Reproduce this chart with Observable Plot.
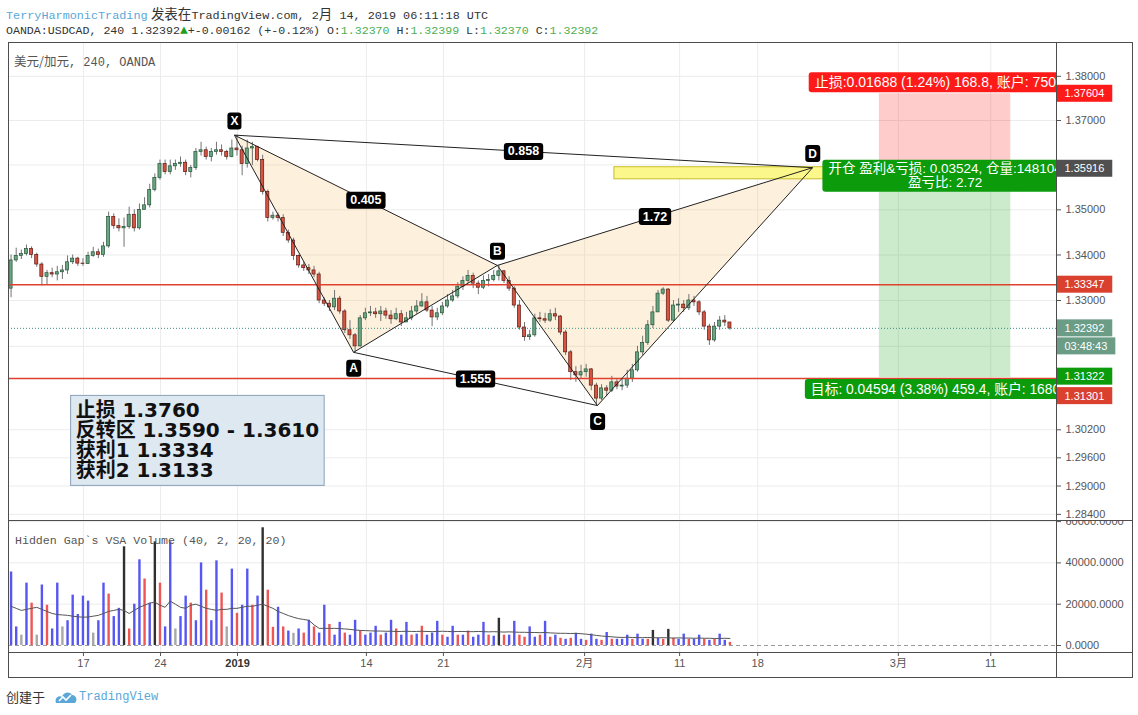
<!DOCTYPE html>
<html><head><meta charset="utf-8">
<script src="https://cdn.jsdelivr.net/npm/d3@7"></script>
<script src="https://cdn.jsdelivr.net/npm/@observablehq/plot@0.6"></script>
<style>
body{margin:0;background:#fff;width:1138px;height:715px;position:relative;overflow:hidden;font-family:"Liberation Sans","Noto Sans CJK SC",sans-serif;}
.abs{position:absolute;white-space:nowrap;}
.mono{font-family:"Liberation Mono","DejaVu Sans Mono",monospace;}
.cjk{font-family:"Noto Sans CJK SC",sans-serif;}
.gv{color:#4caf50;}
.ln{position:absolute;background:#4d4d4d;pointer-events:none;}
</style></head><body>
<div class="abs" style="left:6px;top:4px;font-size:11.8px;line-height:18px;color:#333"><span class="mono" style="color:#5aa7d8">TerryHarmonicTrading</span> <span class="cjk" style="font-size:13.5px">发表在</span><span class="mono">TradingView.com, 2</span><span class="cjk" style="font-size:13.5px">月</span><span class="mono"> 14, 2019 06:11:18 UTC</span></div>
<div class="abs mono" style="left:6px;top:22px;font-size:11.6px;line-height:18px;color:#333">OANDA:USDCAD, 240 1.32392<span style="color:#1f9e1f;font-size:13px">▲</span>+-0.00162 (+-0.12%) O:<span class="gv">1.32370</span> H:<span class="gv">1.32399</span> L:<span class="gv">1.32370</span> C:<span class="gv">1.32392</span></div>
<div id="main" class="abs" style="left:8px;top:42px"></div>
<div id="vol" class="abs" style="left:8px;top:520px"></div>
<div class="abs" style="left:14px;top:53px;font-size:12px;line-height:16px;color:#555"><span class="cjk" style="font-size:12.5px">美元/加元</span><span class="mono">, 240, OANDA</span></div>
<div class="abs mono" style="left:15px;top:533px;font-size:11.6px;line-height:16px;color:#555">Hidden Gap`s VSA Volume (40, 2, 20, 20)</div>
<div class="abs" style="left:8px;top:42px;width:1125px;height:636px;border:1px solid #4d4d4d;box-sizing:border-box;pointer-events:none"></div>
<div class="ln" style="left:8px;top:520px;width:1125px;height:1px"></div>
<div class="ln" style="left:8px;top:652px;width:1125px;height:1px"></div>
<div class="ln" style="left:1056px;top:42px;width:1px;height:636px"></div>
<div class="abs" style="left:6px;top:688px;font-size:13px;line-height:18px;color:#333"><span class="cjk">创建于</span></div>
<svg class="abs" style="left:55px;top:690px" width="22" height="14" viewBox="0 0 22 14"><path d="M1 13 C-1 8 4 5 7 7 C8 2 15 1 17 5 C21 5 23 10 20 13 Z" fill="#5aa7d8"/><path d="M4 11 L8 7 L11 10 L16 5" stroke="#fff" stroke-width="1.6" fill="none"/></svg>
<div class="abs mono" style="left:79px;top:689px;font-size:12px;line-height:16px;color:#5aa7d8">TradingView</div>
<script>
// ---------- data ----------
const candleOpen = [1.3326,1.3388,1.3398,1.3402,1.3413,1.3400,1.3379,1.3352,1.3360,1.3357,
 1.3362,1.3366,1.3384,1.3392,1.3381,1.3380,1.3398,1.3406,1.3400,1.3419,
 1.3484,1.3464,1.3459,1.3462,1.3489,1.3459,1.3500,1.3510,1.3544,1.3571,
 1.3602,1.3584,1.3597,1.3602,1.3605,1.3584,1.3593,1.3629,1.3633,1.3618,
 1.3629,1.3633,1.3629,1.3618,1.3637,1.3633,1.3602,1.3637,1.3640,1.3611,
 1.3540,1.3482,1.3487,1.3482,1.3449,1.3432,1.3398,1.3377,1.3371,1.3366,
 1.3357,1.3300,1.3293,1.3285,1.3304,1.3276,1.3235,1.3224,1.3200,1.3261,
 1.3272,1.3274,1.3270,1.3276,1.3267,1.3259,1.3270,1.3252,1.3261,1.3276,
 1.3287,1.3296,1.3278,1.3263,1.3272,1.3287,1.3300,1.3309,1.3330,1.3343,
 1.3354,1.3337,1.3328,1.3343,1.3345,1.3354,1.3364,1.3343,1.3326,1.3289,
 1.3241,1.3220,1.3224,1.3261,1.3259,1.3256,1.3270,1.3265,1.3230,1.3187,
 1.3144,1.3137,1.3144,1.3150,1.3115,1.3087,1.3109,1.3104,1.3122,1.3113,
 1.3115,1.3130,1.3148,1.3187,1.3207,1.3246,1.3274,1.3315,1.3324,1.3256,
 1.3289,1.3291,1.3283,1.3300,1.3296,1.3274,1.3243,1.3213,1.3243,1.3256,
 1.3252];
const candleHigh = [1.3400,1.3415,1.3411,1.3422,1.3418,1.3404,1.3383,1.3366,1.3371,1.3375,
 1.3377,1.3398,1.3400,1.3395,1.3392,1.3406,1.3417,1.3413,1.3428,1.3495,
 1.3491,1.3480,1.3482,1.3506,1.3500,1.3513,1.3527,1.3557,1.3580,1.3611,
 1.3611,1.3611,1.3611,1.3618,1.3611,1.3599,1.3637,1.3651,1.3640,1.3637,
 1.3651,1.3645,1.3633,1.3656,1.3667,1.3642,1.3656,1.3651,1.3642,1.3622,
 1.3544,1.3495,1.3493,1.3489,1.3455,1.3437,1.3400,1.3384,1.3379,1.3375,
 1.3362,1.3306,1.3300,1.3322,1.3309,1.3280,1.3256,1.3228,1.3267,1.3283,
 1.3287,1.3283,1.3287,1.3283,1.3278,1.3283,1.3278,1.3274,1.3287,1.3300,
 1.3315,1.3309,1.3287,1.3283,1.3296,1.3313,1.3322,1.3339,1.3352,1.3366,
 1.3360,1.3343,1.3354,1.3357,1.3366,1.3377,1.3366,1.3352,1.3330,1.3300,
 1.3252,1.3235,1.3270,1.3274,1.3272,1.3280,1.3283,1.3267,1.3235,1.3191,
 1.3156,1.3159,1.3161,1.3152,1.3120,1.3117,1.3115,1.3135,1.3130,1.3130,
 1.3148,1.3161,1.3200,1.3222,1.3256,1.3287,1.3322,1.3328,1.3326,1.3300,
 1.3304,1.3300,1.3313,1.3309,1.3300,1.3278,1.3248,1.3252,1.3265,1.3267,
 1.3252];
const candleLow = [1.3306,1.3384,1.3390,1.3398,1.3392,1.3373,1.3332,1.3335,1.3350,1.3343,
 1.3346,1.3357,1.3379,1.3375,1.3375,1.3379,1.3395,1.3392,1.3395,1.3415,
 1.3457,1.3451,1.3417,1.3457,1.3451,1.3455,1.3500,1.3504,1.3540,1.3566,
 1.3578,1.3578,1.3588,1.3595,1.3576,1.3571,1.3588,1.3620,1.3611,1.3607,
 1.3622,1.3620,1.3611,1.3616,1.3620,1.3576,1.3593,1.3599,1.3607,1.3533,
 1.3473,1.3477,1.3473,1.3441,1.3426,1.3388,1.3371,1.3364,1.3357,1.3350,
 1.3293,1.3287,1.3276,1.3278,1.3270,1.3228,1.3215,1.3187,1.3198,1.3256,
 1.3265,1.3261,1.3254,1.3259,1.3248,1.3256,1.3243,1.3252,1.3256,1.3270,
 1.3285,1.3274,1.3243,1.3256,1.3267,1.3283,1.3296,1.3304,1.3322,1.3337,
 1.3326,1.3313,1.3324,1.3330,1.3341,1.3343,1.3337,1.3320,1.3283,1.3235,
 1.3211,1.3213,1.3220,1.3252,1.3250,1.3252,1.3256,1.3224,1.3180,1.3126,
 1.3122,1.3130,1.3133,1.3104,1.3072,1.3083,1.3091,1.3100,1.3106,1.3104,
 1.3109,1.3122,1.3144,1.3180,1.3202,1.3239,1.3274,1.3311,1.3252,1.3252,
 1.3274,1.3274,1.3278,1.3287,1.3267,1.3235,1.3202,1.3209,1.3235,1.3243,
 1.3235];
const candleClose = [1.3388,1.3398,1.3402,1.3413,1.3400,1.3379,1.3352,1.3360,1.3357,1.3362,
 1.3366,1.3384,1.3392,1.3381,1.3380,1.3398,1.3406,1.3400,1.3419,1.3484,
 1.3464,1.3459,1.3462,1.3489,1.3459,1.3500,1.3510,1.3544,1.3571,1.3602,
 1.3584,1.3597,1.3602,1.3605,1.3584,1.3593,1.3629,1.3633,1.3618,1.3629,
 1.3633,1.3629,1.3618,1.3637,1.3633,1.3602,1.3637,1.3640,1.3611,1.3540,
 1.3482,1.3487,1.3482,1.3449,1.3432,1.3398,1.3377,1.3371,1.3366,1.3357,
 1.3300,1.3293,1.3285,1.3304,1.3276,1.3235,1.3224,1.3200,1.3261,1.3272,
 1.3274,1.3270,1.3276,1.3267,1.3259,1.3270,1.3252,1.3261,1.3276,1.3287,
 1.3296,1.3278,1.3263,1.3272,1.3287,1.3300,1.3309,1.3330,1.3343,1.3354,
 1.3337,1.3328,1.3343,1.3345,1.3354,1.3364,1.3343,1.3326,1.3289,1.3241,
 1.3220,1.3224,1.3261,1.3259,1.3256,1.3270,1.3265,1.3230,1.3187,1.3144,
 1.3137,1.3144,1.3150,1.3115,1.3087,1.3109,1.3104,1.3122,1.3113,1.3115,
 1.3130,1.3148,1.3187,1.3207,1.3246,1.3274,1.3315,1.3324,1.3256,1.3289,
 1.3291,1.3283,1.3300,1.3296,1.3274,1.3243,1.3213,1.3243,1.3256,1.3252,
 1.3239];
const volume = [35600,9000,5000,30200,20500,5000,29300,19500,8000,30200,
 9000,12000,24400,15000,23900,21500,6000,12000,30200,24900,
 14000,18000,47800,8000,20000,41500,32200,20500,50200,30200,
 9000,50200,8000,14000,23900,20500,12000,40000,26800,12000,
 41000,25400,9000,37000,15600,19500,37000,19500,23900,57000,
 26800,8800,18500,9000,7000,5900,8000,6000,12200,9000,
 6000,19500,10200,5000,11200,6000,5000,12200,7000,5000,
 6000,9300,5000,6000,12200,8000,5000,11200,5000,5500,
 9300,5000,6000,11700,5000,4000,9300,5000,5000,7000,
 4000,5000,11200,5000,4500,13200,5000,5000,11700,5000,
 4000,9000,4000,5000,11700,4000,5000,3500,3000,3500,
 5900,3000,2500,5500,3000,2500,6300,3000,3000,3000,
 5000,3000,5500,3000,3000,7300,3500,3000,7800,3500,
 3000,5500,3000,3000,5000,3000,2500,3000,5500,2500,
 1500];
const volumeKind = ["b","b","g","b","r","g","b","r","b","b",
 "g","b","b","b","b","b","g","b","b","r",
 "b","b","k","r","b","b","r","b","k","r",
 "b","b","g","b","b","r","b","b","r","b",
 "b","r","g","b","r","b","b","r","b","k",
 "r","r","b","r","b","g","b","r","b","r",
 "b","b","r","b","b","r","b","b","r","b",
 "b","b","r","b","b","r","b","b","r","b",
 "r","b","b","b","r","b","b","r","b","r",
 "b","b","b","r","b","k","r","b","b","r",
 "r","b","b","r","b","r","b","r","b","r",
 "b","b","r","b","b","r","b","r","b","b",
 "b","r","b","b","r","k","b","r","k","r",
 "b","b","r","b","b","r","b","r","b","b",
 "r"];
const volumeMA = [19000,18000,17000,17500,18000,18500,17500,16500,15500,15000,
 14800,14600,14200,13900,13700,13800,14200,14600,15500,16500,
 17000,17500,17000,15500,17000,18500,19500,20500,21000,19500,
 18500,21500,20000,18500,18000,19500,20000,19000,18000,17500,
 17000,17500,17500,18000,18000,18500,19000,19000,19500,20000,
 19000,18000,16500,15500,14500,13700,13000,12600,12200,10000,
 8300,8300,8300,8300,8200,8000,7800,7500,7300,7200,
 7100,7000,7000,6900,6900,6800,6800,6900,6800,6800,
 6900,6800,6700,6800,6900,6800,6700,6800,6800,6700,
 6700,6800,6700,6600,6700,6600,6500,6600,6500,6400,
 6400,6300,6300,6200,6300,6100,6000,5900,5900,5800,
 5900,5700,5500,5200,4900,4600,4400,4200,4000,3900,
 4000,3900,3800,3800,3900,3800,3700,3800,3700,3600,
 3700,3600,3600,3500,3600,3500,3500,3400,3400,3500,
 3400];
const timeTickPos = [14.1, 29.1, 44.1, 69.2, 84.2, 111.7, 130.2, 145.4, 172.8, 190.8];
const timeTickLabel = ["17", "24", "2019", "14", "21", "2月", "11", "18", "3月", "11"];
const priceGridTicks = [1.38, 1.37, 1.36, 1.35, 1.34, 1.33, 1.32, 1.302, 1.296, 1.29, 1.284];
const priceLabelTicks = [1.38, 1.37, 1.35, 1.34, 1.33, 1.302, 1.296, 1.29, 1.284];
const volumeTicks = [0, 20000, 40000, 60000];
const patternNames = ["X", "A", "B", "C", "D"];
const patternIdx = [43.5, 66.7, 94.7, 114.2, 156.1];
const patternPrice = [1.3667, 1.3187, 1.3377, 1.3072, 1.3594];
const legFrom = ["X", "A", "B", "B", "C", "D", "X", "A"];
const legTo = ["A", "B", "X", "C", "D", "B", "D", "C"];
const ratioText = ["0.858", "0.405", "1.72", "1.555"];
const ratioFrom = ["X", "X", "B", "A"];
const ratioTo = ["D", "B", "D", "C"];
const levelPrices = [1.33347, 1.31301];
const lastPrice = 1.32392;
const countdownText = "03:48:43";
const zoneIdx = [117.5, 159.6];
const zonePrice = [1.3568, 1.3595];
const posIdx = [169.1, 194.7];
const posStop = 1.37604, posEntry = 1.35916, posTarget = 1.31322;
const stopText = "止损:0.01688 (1.24%) 168.8, 账户: 7504.3";
const entryText = "开仓 盈利&亏损: 0.03524, 仓量:148104\n盈亏比: 2.72";
const targetText = "目标: 0.04594 (3.38%) 459.4, 账户: 16806.1";
const noteLines = ["止损 1.3760", "反转区 1.3590 - 1.3610", "获利1 1.3334", "获利2 1.3133"];
const noteIdx = 11.6, notePrice = 1.3090;

// ---------- build ----------
const NS = "http://www.w3.org/2000/svg";
const bx = (fill, stroke, px, py, rx) => () => `bx|${fill}|${stroke}|${px}|${py}|${rx}`;
function applyBoxes(svg) {
  svg.querySelectorAll("text[aria-label^='bx|']").forEach(t => {
    const [, fill, stroke, px, py, rx] = t.getAttribute("aria-label").split("|");
    const b = t.getBBox();
    const r = document.createElementNS(NS, "rect");
    r.setAttribute("x", b.x - +px); r.setAttribute("y", b.y - +py);
    r.setAttribute("width", b.width + 2 * +px); r.setAttribute("height", b.height + 2 * +py);
    r.setAttribute("rx", rx); r.setAttribute("fill", fill); r.setAttribute("stroke", stroke);
    const tr = t.getAttribute("transform"); if (tr) r.setAttribute("transform", tr);
    t.parentNode.insertBefore(r, t);
  });
}

const xDomain = [-0.5, 203.6];
const candles = candleClose.map((c, i) => ({i, open: candleOpen[i], high: candleHigh[i], low: candleLow[i], close: c}));
const upC = candles.filter(d => d.close >= d.open), downC = candles.filter(d => d.close < d.open);
const bw = 0.3;
const pt = {};
patternNames.forEach((n, k) => pt[n] = {name: n, i: patternIdx[k], p: patternPrice[k]});
const legs = legFrom.map((f, k) => ({x1: pt[f].i, y1: pt[f].p, x2: pt[legTo[k]].i, y2: pt[legTo[k]].p}));
const ratios = ratioText.map((t, k) => {const a = pt[ratioFrom[k]], b = pt[ratioTo[k]]; return {text: t, i: (a.i + b.i) / 2, p: Math.sqrt(a.p * b.p)};});
const triangles = [["X", "A", "B"], ["B", "C", "D"]].map(t => t.map(n => pt[n]));
const above = ["X", "B", "D"].map(n => pt[n]), below = ["A", "C"].map(n => pt[n]);
const pos = {x1: posIdx[0], x2: posIdx[1], stop: posStop, entry: posEntry, target: posTarget, mid: (posIdx[0] + posIdx[1]) / 2};
const zone = {x1: zoneIdx[0], x2: zoneIdx[1], y1: zonePrice[0], y2: zonePrice[1]};
const F = '"Liberation Sans","Noto Sans CJK SC",sans-serif';

const axisLabels = [
  {text: d3.format(".5f")(posStop), p: posStop, bg: "#ff1a1a", dy: 0},
  {text: d3.format(".5f")(posEntry), p: posEntry, bg: "#505050", dy: 0},
  {text: d3.format(".5f")(levelPrices[0]), p: levelPrices[0], bg: "#d9412e", dy: 0},
  {text: d3.format(".5f")(lastPrice), p: lastPrice, bg: "#6a9c86", dy: 0},
  {text: countdownText, p: lastPrice, bg: "#6a9c86", dy: 18},
  {text: d3.format(".5f")(posTarget), p: posTarget, bg: "#0b9b0b", dy: -1},
  {text: d3.format(".5f")(levelPrices[1]), p: levelPrices[1], bg: "#d9412e", dy: 17.5}
];

const mainSvg = Plot.plot({
  width: 1125, height: 478, marginLeft: 0, marginRight: 77, marginTop: 0, marginBottom: 0,
  x: {domain: xDomain, axis: null, label: null},
  y: {type: "log", domain: [1.2827, 1.3877], axis: null, label: null},
  style: {fontFamily: F, fontSize: "11px", color: "#555", background: "transparent"},
  marks: [
    Plot.ruleY(priceGridTicks, {stroke: "#ececec"}),
    Plot.ruleX(timeTickPos, {stroke: "#ececec"}),
    Plot.rect([pos], {x1: "x1", x2: "x2", y1: "entry", y2: "stop", fill: "#ff0000", fillOpacity: 0.2}),
    Plot.rect([pos], {x1: "x1", x2: "x2", y1: "target", y2: "entry", fill: "#009600", fillOpacity: 0.2}),
    ...triangles.map(t => Plot.line(t, {x: "i", y: "p", fill: "#f5be64", fillOpacity: 0.22, stroke: "none", curve: "linear-closed"})),
    Plot.ruleX(candles, {x: "i", y1: "low", y2: "high", stroke: "#737375"}),
    Plot.rect(upC, {x1: d => d.i - bw, x2: d => d.i + bw, y1: "open", y2: "close", fill: "#6ba583", stroke: "#225437", strokeWidth: 0.7}),
    Plot.rect(downC, {x1: d => d.i - bw, x2: d => d.i + bw, y1: "open", y2: "close", fill: "#d75442", stroke: "#5b1a13", strokeWidth: 0.7}),
    Plot.ruleY(levelPrices, {stroke: "#e0412e", strokeWidth: 1.5}),
    Plot.ruleY([lastPrice], {stroke: "#3f8f86", strokeDasharray: "1,2"}),
    Plot.rect([zone], {x1: "x1", x2: "x2", y1: "y1", y2: "y2", fill: "#fbf78a", stroke: "#c8bc2a"}),
    Plot.link(legs, {x1: "x1", y1: "y1", x2: "x2", y2: "y2", stroke: "#222", strokeWidth: 1}),
    Plot.text(ratios, {x: "i", y: "p", text: "text", fill: "white", fontSize: 12.5, fontWeight: "bold", ariaLabel: bx("#000", "none", 4, 1.5, 3)}),
    Plot.text(above, {x: "i", y: "p", text: "name", dy: -14, fill: "white", fontSize: 12, fontWeight: "bold", ariaLabel: bx("#000", "none", 3, 1.5, 3)}),
    Plot.text(below, {x: "i", y: "p", text: "name", dy: 16, fill: "white", fontSize: 12, fontWeight: "bold", ariaLabel: bx("#000", "none", 3, 1.5, 3)}),
    Plot.text([pos], {x: "mid", y: "stop", text: () => stopText, dy: -11, fill: "white", fontSize: 14, clip: true, ariaLabel: bx("#ff1a1a", "none", 6, 2, 3)}),
    Plot.text([pos], {x: "mid", y: "entry", text: () => entryText, dy: 7, lineHeight: 1.05, fill: "white", fontSize: 13.5, clip: true, ariaLabel: bx("#0b9b0b", "none", 6, 1.5, 3)}),
    Plot.text([pos], {x: "mid", y: "target", text: () => targetText, dy: 12, fill: "white", fontSize: 13.8, clip: true, ariaLabel: bx("#0b9b0b", "none", 6, 2, 3)}),
    Plot.text([{i: noteIdx, p: notePrice}], {x: "i", y: "p", text: () => noteLines.join("\n"), textAnchor: "start", lineAnchor: "top", dx: 5, dy: 6, lineHeight: 1.0, fontSize: 20, fontWeight: "bold", fill: "#111", fontFamily: '"DejaVu Sans","Noto Sans CJK SC",sans-serif', ariaLabel: bx("#dde8f1", "#8aa2b8", 5, 3, 0)}),
    Plot.axisY({anchor: "right", ticks: priceLabelTicks, tickFormat: d3.format(".5f"), tickSize: 4, tickPadding: 5, fontSize: 11, color: "#555", label: null}),
    ...axisLabels.map(d => Plot.text([d], {frameAnchor: "right", y: "p", text: "text", dx: 8, dy: d.dy, textAnchor: "start", fill: "white", fontSize: 11, ariaLabel: bx(d.bg, "none", 8, 2.5, 0)}))
  ]
});
document.getElementById("main").append(mainSvg);
applyBoxes(mainSvg);

const volColor = {g: "#a8a8a8", b: "#5656f2", r: "#ee5656", k: "#303030"};
const vols = volume.map((v, i) => ({i, v, k: volumeKind[i], ma: volumeMA[i]}));
const tickLabelOf = new Map(timeTickPos.map((p, k) => [p, timeTickLabel[k]]));
const volSvg = Plot.plot({
  width: 1125, height: 158, marginLeft: 0, marginRight: 77, marginTop: 0, marginBottom: 26,
  x: {domain: xDomain, axis: null, label: null},
  y: {domain: [-3390, 60533], axis: null, label: null},
  style: {fontFamily: F, fontSize: "11px", color: "#555", background: "transparent"},
  marks: [
    Plot.ruleY(volumeTicks.slice(1), {stroke: "#ececec"}),
    Plot.ruleX(timeTickPos, {stroke: "#ececec"}),
    Plot.ruleY([0], {stroke: "#9a9a9a", strokeDasharray: "4,3"}),
    ...["g", "b", "r", "k"].map(k => Plot.ruleX(vols.filter(d => d.k === k), {x: "i", y1: 0, y2: "v", stroke: volColor[k], strokeWidth: 2.4})),
    Plot.line(vols, {x: "i", y: "ma", stroke: "#555", strokeWidth: 1}),
    Plot.axisY({anchor: "right", ticks: volumeTicks, tickFormat: d3.format(".4f"), tickSize: 4, tickPadding: 5, fontSize: 11, color: "#555", label: null}),
    Plot.axisX({anchor: "bottom", ticks: timeTickPos, tickFormat: p => tickLabelOf.get(p), tickSize: 4, tickPadding: 3, fontSize: 11, color: "#555", label: null})
  ]
});
document.getElementById("vol").append(volSvg);
volSvg.querySelectorAll("text").forEach(t => { if (t.textContent === "2019") { t.setAttribute("font-weight", "bold"); t.setAttribute("fill", "#333"); } });
</script>
</body></html>
